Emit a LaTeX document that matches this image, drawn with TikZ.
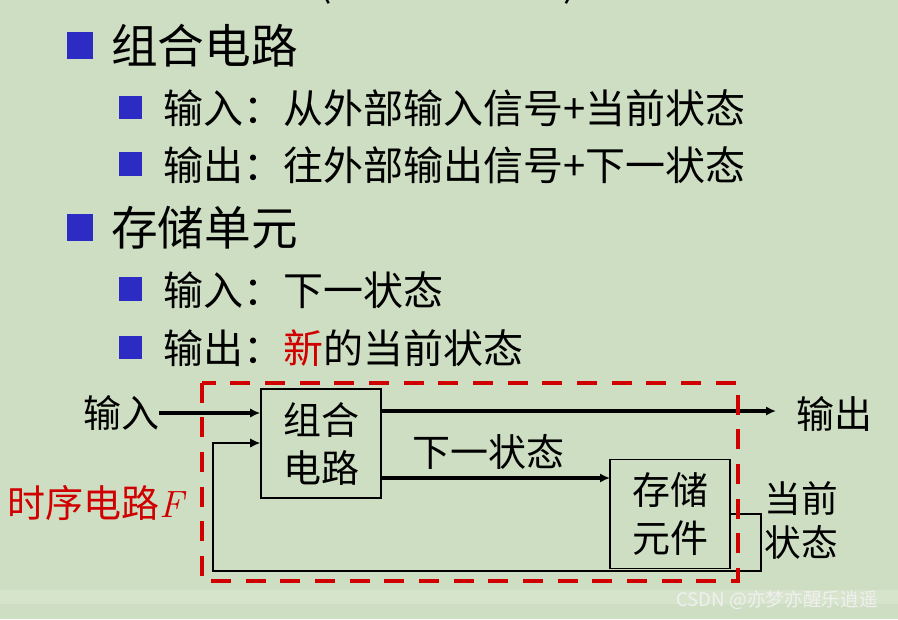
\documentclass[tikz,border=0pt]{standalone}
\usepackage{fontspec}
\setmainfont{Noto Sans CJK SC}
\newfontfamily\lmfont{Latin Modern Roman}
\usepackage{tikz}
\usetikzlibrary{shapes,arrows,arrows.meta}
\definecolor{bg}{RGB}{206,222,195}
\definecolor{band}{RGB}{214,228,204}
\definecolor{bulletblue}{RGB}{44,44,196}
\definecolor{framered}{RGB}{208,0,0}
\tikzset{
	block/.style     = {draw, line width=1.2pt, rectangle, minimum width=90pt,
		minimum height=82pt, align=center, inner sep=0pt,
		font=\fontsize{28.5}{36}\selectfont},
	bigbullet/.style = {fill=bulletblue, minimum size=20pt, inner sep=0pt},
	subbullet/.style = {fill=bulletblue, minimum size=17.5pt, inner sep=0pt},
	headline/.style  = {anchor=west, inner sep=0pt, font=\fontsize{35}{40}\selectfont},
	subline/.style   = {anchor=west, inner sep=0pt, font=\fontsize{30}{36}\selectfont},
	tag/.style       = {inner sep=0pt, align=center, font=\fontsize{28.5}{33}\selectfont},
	redframe/.style  = {draw=framered, line width=3pt, dash pattern=on 15pt off 11pt},
	feed/.style      = {line width=1.1pt}, % thin loop back
	flow/.style      = {line width=2.6pt}  % thick signal lines
}
\newcommand{\newword}[1]{{\color{framered}#1}}

\begin{document}
\begin{tikzpicture}[x=0.75pt, y=-0.75pt, >={Latex[length=7.5pt,width=7pt]}]
	\path[use as bounding box, fill=bg] (0,0) rectangle (898,619);
	\fill[band] (0,590) rectangle (898,604);

	% line cut off at the top
	\draw
	node at (325,5)[anchor=south, inner sep=0pt, font=\fontsize{30}{36}\selectfont] (lp) {(}
	node at (570,5)[anchor=south, inner sep=0pt, font=\fontsize{30}{36}\selectfont] (rp) {)};

	% bullet list
	\draw
	node at (80,45.5)[bigbullet] (b1) {}
	node at (111,46)[headline] (t1) {组合电路}
	node at (130.5,107.5)[subbullet] (b2) {}
	node at (163,108)[subline] (t2) {输入：从外部输入信号+当前状态}
	node at (130.5,164)[subbullet] (b3) {}
	node at (163,165)[subline] (t3) {输出：往外部输出信号+下一状态}
	node at (80,227.5)[bigbullet] (b4) {}
	node at (111,228)[headline] (t4) {存储单元}
	node at (130.5,289)[subbullet] (b5) {}
	node at (163,290)[subline] (t5) {输入：下一状态}
	node at (130.5,347.5)[subbullet] (b6) {}
	node at (163,348)[subline] (t6) {输出：\newword{新}的当前状态};

	% circuit
	\draw
	node at (321,443.5)[block] (comb) {组合\\电路}
	node at (670,514)[block] (mem) {存储\\元件}
	node at (121,413)[tag] (in) {输入}
	node at (834,414)[tag] (out) {输出}
	node at (488,452)[tag] (next) {下一状态}
	node at (801,520)[tag, font=\fontsize{27.5}{33}\selectfont] (cur) {当前\\状态}
	node at (96,503)[tag, text=framered] (seq) {时序电路{\lmfont\itshape F}};

	\coordinate (oend) at (776,411);
	\coordinate (nsin) at (610,478);
	\coordinate (fbr) at (761,571);
	\coordinate (fbl) at (213,443);

	\draw[->, flow] (in.east) -- (in.east -| comb.west);
	\draw[->, flow] (comb.east |- oend) -- (oend);
	\draw[->, flow] (comb.east |- nsin) -- (nsin);
	\draw[->, feed] (mem.east) -| (fbr) -- (fbr -| fbl) -- (fbl) -- (fbl -| comb.west);

	\draw[redframe] (201.5,382.5) rectangle (738,581);

	\draw
	node at (777,600)[inner sep=0pt, text=white!88!gray, font=\fontsize{14}{16}\selectfont] (mark) {CSDN @亦梦亦醒乐逍遥};
\end{tikzpicture}
\end{document}
